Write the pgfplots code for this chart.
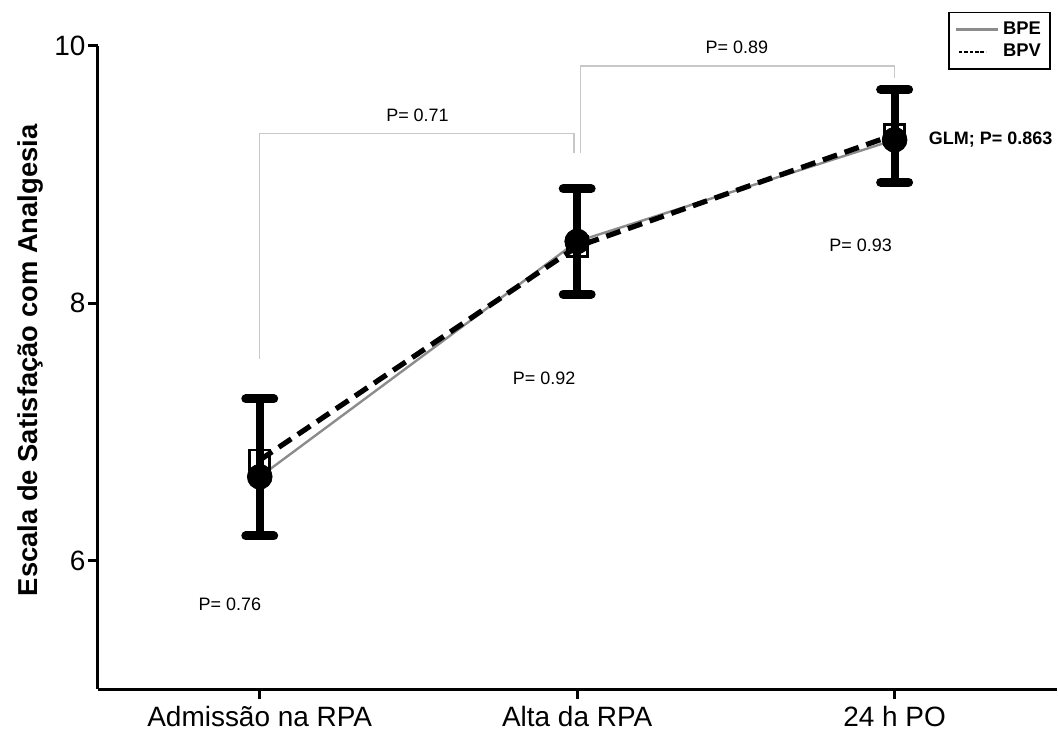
\documentclass[border=0pt]{standalone}
\usepackage{pgfplots}
\pgfplotsset{compat=1.18}
\usepackage{fontspec}
\setmainfont{Liberation Sans}
\definecolor{bpegray}{RGB}{140,140,140}
\definecolor{brk}{RGB}{200,200,200}
\begin{document}
\begin{tikzpicture}
\begin{axis}[
  name=ax,
  scale only axis,
  width=480pt, height=322pt,
  xmin=-0.51, xmax=2.51,
  ymin=5, ymax=10,
  axis lines*=left,
  axis line style={line width=1.5pt, black},
  tick align=outside,
  major tick length=5pt,
  every tick/.style={line width=1.5pt, black},
  xtick={0,1,2},
  xticklabels={Admissão na RPA, Alta da RPA, 24 h PO},
  ytick={6,8,10},
  tick label style={font=\fontsize{14}{16}\selectfont},
  yticklabel style={inner sep=1pt},
  /pgf/number format/assume math mode=true,
  ylabel={Escala de Satisfação com Analgesia},
  ylabel style={font=\bfseries\fontsize{13.7}{15}\selectfont, at={(ticklabel cs:0.511)}, yshift=1pt},
  clip=false,
  legend style={at={(rel axis cs:0.994,1.053)}, anchor=north east,
    draw=black, line width=0.8pt, font=\bfseries\fontsize{9.2}{10}\selectfont,
    row sep=-0.5pt, inner sep=2.5pt},
  legend cell align=right,
]
\addplot[bpegray, line width=1.2pt, no marks,
  legend image code/.code={\draw[bpegray, line width=1.5pt] (0pt,0pt) -- (21pt,0pt);}]
  coordinates {(0,6.65) (1,8.48) (2,9.27)};
\addlegendentry{BPE}
\addplot[black, line width=2.6pt, dash pattern=on 7.5pt off 4pt, no marks,
  legend image code/.code={\draw[black, line width=1.1pt, dash pattern=on 1.8pt off 0.9pt] (1.5pt,0pt) -- (15pt,0pt);}]
  coordinates {(0,6.78) (1,8.44) (2,9.31)};
\addlegendentry{BPV}
% brackets
\draw[brk, line width=0.7pt] (axis cs:0,7.566) -- (axis cs:0,9.318) -- (axis cs:0.99,9.318) -- (axis cs:0.99,9.17);
\draw[brk, line width=0.7pt] (axis cs:1.01,9.17) -- (axis cs:1.01,9.845) -- (axis cs:2.0,9.845) -- (axis cs:2.0,9.75);
% error bars
\addplot[forget plot, draw=none, no marks,
  error bars/.cd, y dir=both, y explicit,
  error bar style={line width=4pt, black},
  error mark options={rotate=90, mark size=7pt, line width=4.5pt, black, line cap=round}]
  table[x=x, y=y, y error plus=ep, y error minus=em] {
x y ep em
0 6.65 0.606 0.46
1 8.48 0.41 0.41
2 9.27 0.39 0.33
};
\addplot[forget plot, only marks, mark=square, mark size=5pt,
  mark options={draw=black, line width=1.4pt, fill=none}]
  coordinates {(0,6.78) (1,8.44) (2,9.31)};
\addplot[forget plot, only marks, mark=*, mark size=6.2pt,
  mark options={draw=black, fill=black}]
  coordinates {(0,6.65) (1,8.48) (2,9.27)};
% annotations
\node[font=\fontsize{9}{10}\selectfont] at (axis cs:0.497,9.457) {P= 0.71};
\node[font=\fontsize{9}{10}\selectfont] at (axis cs:1.503,9.992) {P= 0.89};
\node[font=\fontsize{9}{10}\selectfont] at (axis cs:-0.094,5.659) {P= 0.76};
\node[font=\fontsize{9}{10}\selectfont] at (axis cs:0.896,7.419) {P= 0.92};
\node[font=\fontsize{9}{10}\selectfont] at (axis cs:1.893,8.450) {P= 0.93};
\node[font=\bfseries\fontsize{9}{10}\selectfont, anchor=west, inner sep=0pt] at (axis cs:2.107,9.271) {GLM; P= 0.863};
\end{axis}
\path (ax.south west) ++(-49pt,-19.5pt) coordinate (bl);
\path (ax.north east) ++(0pt,23pt) coordinate (tr);
\useasboundingbox (bl) rectangle (tr);
\end{tikzpicture}
\end{document}
